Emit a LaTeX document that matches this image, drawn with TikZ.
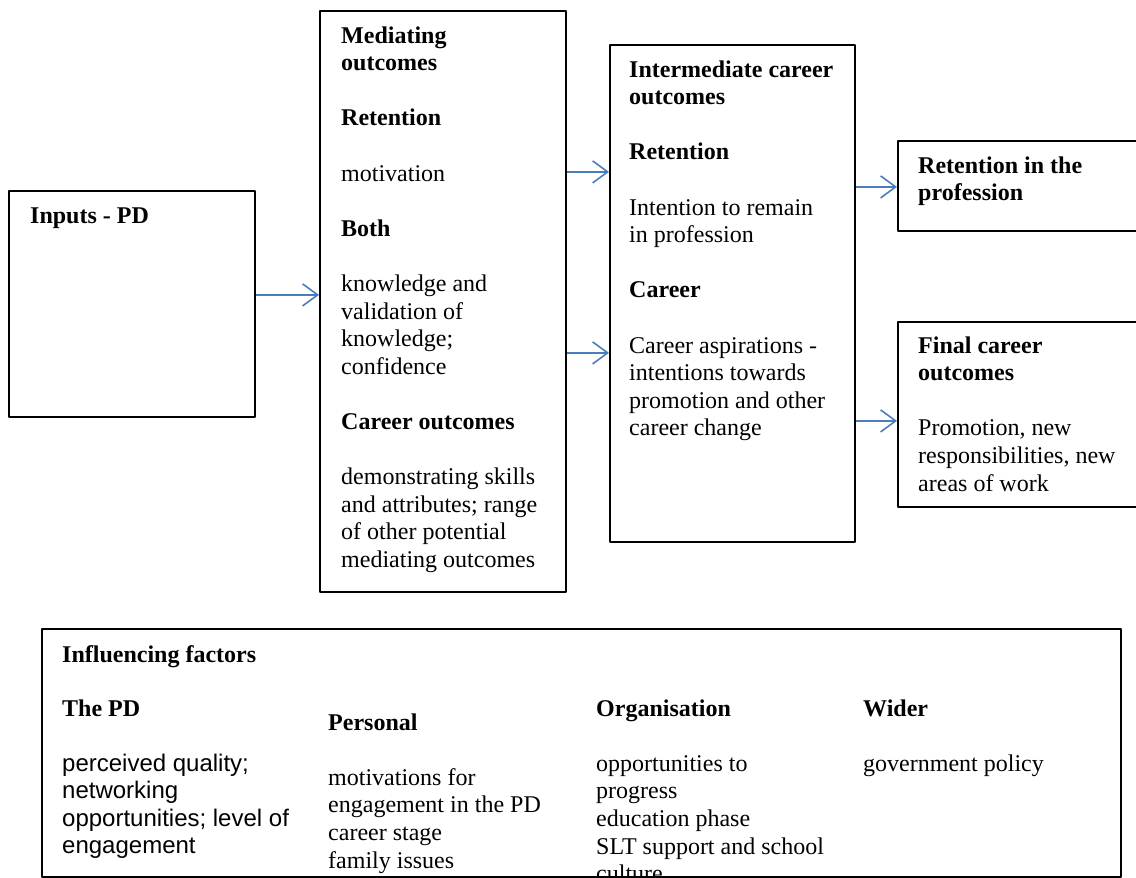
\documentclass[tikz,border=0pt]{standalone}
\usepackage{fontspec}
\setmainfont{Liberation Serif}
\newfontfamily\arialfont{Liberation Sans}
\usepackage{tikz}
\usetikzlibrary{arrows.meta}
\definecolor{arrowblue}{HTML}{4A7EBB}
\tikzset{
  every picture/.style={line join=round, >=Stealth},
  box/.style={draw, rectangle, line width=1.8pt, inner sep=0pt, anchor=north west},
  txt/.style={anchor=base west, inner sep=0pt, align=left, font=\fontsize{24}{27.6}\selectfont},
  sanstxt/.style={txt, font=\arialfont\fontsize{24}{27.6}\selectfont},
  flow/.style={arrowblue, line width=1.6pt, -{Straight Barb[length=15pt,width=22pt,line width=1.6pt]}},
}

\begin{document}
\begin{tikzpicture}[x=1pt,y=-1pt]
\useasboundingbox (0,0) rectangle (1136,878);
% boxes
\node[box, minimum width=246pt, minimum height=226pt] (inputs) at (8,190) {};
\node[box, minimum width=246pt, minimum height=581pt] (medi) at (319,10) {};
\node[box, minimum width=245pt, minimum height=497pt] (inter) at (609,44) {};
\node[box, minimum width=250pt, minimum height=90pt] (retain) at (897,140) {};
\node[box, minimum width=250pt, minimum height=185pt] (final) at (897,321) {};
\node[box, minimum width=1079pt, minimum height=248pt] (infl) at (41,628) {};
% texts (placed by the baseline of their last line)
\node[txt] (inputs-t) at (30,223) {\textbf{Inputs - PD}};
\node[txt] (medi-t) at (341,567.4) {\textbf{Mediating}\\\textbf{outcomes}\\[27.6pt]\textbf{Retention}\\[27.6pt]motivation\\[27.6pt]\textbf{Both}\\[27.6pt]knowledge and\\validation of\\knowledge;\\confidence\\[27.6pt]\textbf{Career outcomes}\\[27.6pt]demonstrating skills\\and attributes; range\\of other potential\\mediating outcomes};
\node[txt] (inter-t) at (629,435.8) {\textbf{Intermediate career}\\\textbf{outcomes}\\[27.6pt]\textbf{Retention}\\[27.6pt]Intention to remain\\in profession\\[27.6pt]\textbf{Career}\\[27.6pt]Career aspirations -\\intentions towards\\promotion and other\\career change};
\node[txt] (retain-t) at (918,200.6) {\textbf{Retention in the}\\\textbf{profession}};
\node[txt] (final-t) at (918,491) {\textbf{Final career}\\\textbf{outcomes}\\[27.6pt]Promotion, new\\responsibilities, new\\areas of work};
\begin{scope}
\clip (infl.north west) rectangle (infl.south east);
\node[txt] (infl-t) at (62,662) {\textbf{Influencing factors}};
\node[txt] (pd-h) at (62,716) {\textbf{The PD}};
\node[sanstxt] (pd-t) at (62,853.8) {perceived quality;\\networking\\opportunities; level of\\engagement};
\node[txt] (pers-t) at (328,868) {\textbf{Personal}\\[27.6pt]motivations for\\engagement in the PD\\career stage\\family issues};
\node[txt] (org-t) at (596,881.6) {\textbf{Organisation}\\[27.6pt]opportunities to\\progress\\education phase\\SLT support and school\\culture};
\node[txt] (wide-t) at (863,771.2) {\textbf{Wider}\\[27.6pt]government policy};
\end{scope}
% arrows
\draw[flow] ([yshift=9pt]inputs.east) -- ([yshift=9pt]inputs.east -| medi.west);
\draw[flow] ([yshift=129.5pt]medi.east) -- ([yshift=129.5pt]medi.east -| inter.west);
\draw[flow] ([yshift=-51.5pt]medi.east) -- ([yshift=-51.5pt]medi.east -| inter.west);
\draw[flow] ([yshift=106.5pt]inter.east) -- ([yshift=106.5pt]inter.east -| retain.west);
\draw[flow] ([yshift=-127.5pt]inter.east) -- ([yshift=-127.5pt]inter.east -| final.west);
\end{tikzpicture}
\end{document}
